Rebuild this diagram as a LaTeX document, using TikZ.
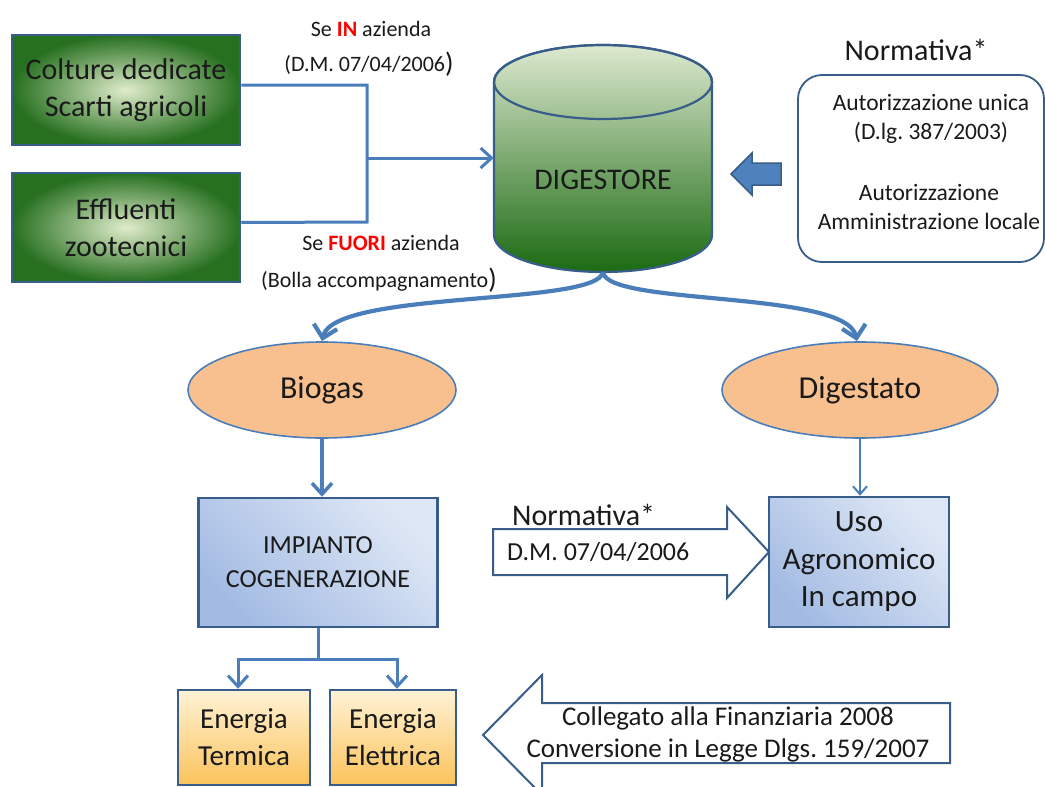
\documentclass[tikz,border=0pt]{standalone}
\usepackage{fontspec}
\setmainfont{Carlito}
\usetikzlibrary{arrows.meta,shapes.geometric,calc}
\definecolor{lnblue}{HTML}{4A7EBB}
\definecolor{bdblue}{HTML}{385D8A}
\definecolor{gdark}{HTML}{277020}
\definecolor{glight}{HTML}{E0ECCB}
\definecolor{cyltop}{HTML}{DDE9CF}
\definecolor{cylbot}{HTML}{1B6A12}
\definecolor{peach}{HTML}{F9C08F}
\definecolor{txt}{HTML}{1A1A1A}
\definecolor{bllight}{HTML}{DEE7F5}
\definecolor{bldark}{HTML}{A3BBE3}
\definecolor{ylight}{HTML}{FFF2D6}
\definecolor{ydark}{HTML}{FBC35B}
\definecolor{arrfill}{HTML}{4F81BD}
\definecolor{ored}{HTML}{FF0000}
\newcommand{\fsz}[2]{\fontsize{#1}{#2}\selectfont}
\frenchspacing
\begin{document}
\begin{tikzpicture}[x=1pt,y=-1pt,
  every node/.style={text=txt},
  greenbox/.style={draw=bdblue, line width=2.5pt, inner color=glight, outer color=gdark,
    minimum width=228pt, minimum height=110pt, align=center, inner sep=0pt, font=\fsz{30}{37}},
  peachell/.style={ellipse, draw=lnblue, line width=1.6pt, fill=peach, minimum height=96pt,
    inner sep=0pt, font=\fsz{32}{38}},
  bluebox/.style={draw=bdblue, line width=2.5pt, top color=bllight, bottom color=bldark,
    shading angle=-45, align=center, inner sep=0pt},
  ybox/.style={draw=bdblue, line width=2.5pt, top color=ylight, bottom color=ydark,
    minimum height=95pt, align=center, inner sep=0pt, font=\fsz{29}{37}},
  conn/.style={draw=lnblue, line width=3pt},
  tipd/.style={-{Straight Barb[length=11pt,width=20pt]}},
  tipc/.style={-{Straight Barb[length=12pt,width=24pt]}},
  tipthin/.style={-{Straight Barb[length=8pt,width=14pt]}},
  lbl/.style={font=\fsz{22}{26}, inner sep=0pt},
  hollow/.style={draw=bdblue, line width=2pt, fill=white, line join=miter}
]
\useasboundingbox (0,0) rectangle (1045,787);
\fill[white] (0,0) rectangle (1045,787);

% source boxes
\node[greenbox] (b1) at (126,90) {Colture dedicate\\Scarti agricoli};
\node[greenbox, minimum height=109pt] (b2) at (126,227.5) {Effluenti\\zootecnici};

% digester
\node[minimum width=218pt, minimum height=227pt, inner sep=0pt] (dig) at (603,158.5) {};
\path[draw=bdblue, line width=2.2pt, top color=cyltop, bottom color=cylbot]
  (494,82) -- (494,235) arc[start angle=180, end angle=360, x radius=109pt, y radius=37pt]
  -- (712,82) arc[start angle=0, end angle=180, x radius=109pt, y radius=37pt] -- cycle;
\draw[bdblue, line width=2.2pt] (603,82) ellipse[x radius=109pt, y radius=37pt];
\node[font=\fsz{30}{36}] (digt) at (603,180) {DIGESTORE};

% merge connector
\coordinate (mj) at (367,158);
\draw[conn] ([yshift=5pt]b1.east) -- (367,85) -- (367,222) -- ([yshift=5pt]b2.east);
\draw[conn, tipd] (mj) -- (dig.west |- mj);

% labels on merge
\node[lbl] (l1) at (371,29) {Se \textcolor{ored}{\textbf{IN}} azienda};
\node[lbl] (l2) at (369,64) {(D.M. 07/04/2006\raisebox{-1pt}{\fsz{28}{28})}};
\node[lbl] (l3) at (381,243) {Se \textcolor{ored}{\textbf{FUORI}} azienda};
\node[lbl] (l4) at (379,280) {(Bolla accompagnamento\raisebox{-1pt}{\fsz{28}{28})}};

% normativa box
\node[font=\fsz{30}{36}] (normt) at (916,50) {Normativa*};
\node[draw=bdblue, line width=1.8pt, rounded corners=24pt, minimum width=246pt,
  minimum height=187pt] (norm) at (921,168.5) {};
\node[font=\fsz{23.5}{29}, align=center] (n1) at (931,119) {Autorizzazione unica\\(D.lg. 387/2003)};
\node[font=\fsz{23.5}{29}, align=center] (n2) at (929,207) {Autorizzazione\\Amministrazione locale};
\path[draw=bdblue, line width=1.5pt, fill=arrfill, line join=miter]
  (731,174) -- (752,153) -- (752,163) -- (781,163) -- (781,185) -- (752,185) -- (752,195) -- cycle;

% products
\node[peachell, minimum width=268pt] (bio) at (322,390) {Biogas};
\node[peachell, minimum width=276pt] (dgs) at (860,390) {Digestato};
\draw[conn, line width=4.2pt, tipc] (dig.south) .. controls (597,306) and (334,290) .. (322,341);
\draw[conn, line width=4.2pt, tipc] (dig.south) .. controls (607,306) and (846,290) .. (857,341);

% second level
\node[bluebox, minimum width=239pt, minimum height=129pt, font=\fsz{26}{34}] (imp) at (318,562.5)
  {IMPIANTO\\COGENERAZIONE};
\node[bluebox, minimum width=180pt, minimum height=130pt, font=\fsz{31}{37.5}] (uso) at (859,562)
  {Uso\\Agronomico\\In campo};
\draw[conn, line width=3.5pt, tipd] (bio.south) -- (bio.south |- imp.north);
\draw[conn, line width=2pt, tipthin] (dgs.south) -- (dgs.south |- uso.north);

% hollow right arrow
\path[hollow] (493,529) -- (727,529) -- (727,507) -- (769,552) -- (727,598) -- (727,575) -- (493,575) -- cycle;
\node[font=\fsz{30}{36}, anchor=west, inner sep=0pt] (nm2) at (512,515) {Normativa*};
\node[font=\fsz{26}{30}, anchor=west, inner sep=0pt] (dm) at (507,552) {D.M. 07/04/2006};

% energy boxes
\node[ybox, minimum width=132pt] (term) at (244,737.5) {Energia\\Termica};
\node[ybox, minimum width=126pt] (elet) at (393,737.5) {Energia\\Elettrica};
\coordinate (split) at (318,659);
\draw[conn] (imp.south) -- (split);
\draw[conn, tipd] (split) -| ($(term.north)+(-6,0)$);
\draw[conn, tipd] (split) -| ($(elet.north)+(4,0)$);

% hollow left arrow
\path[hollow] (950,703) -- (542,703) -- (542,675) -- (483,735) -- (542,795) -- (542,763) -- (950,763) -- cycle;
\node[font=\fsz{27}{32}, align=center] (leg) at (728,734) {Collegato alla Finanziaria 2008\\Conversione in Legge Dlgs. 159/2007};
\end{tikzpicture}
\end{document}
